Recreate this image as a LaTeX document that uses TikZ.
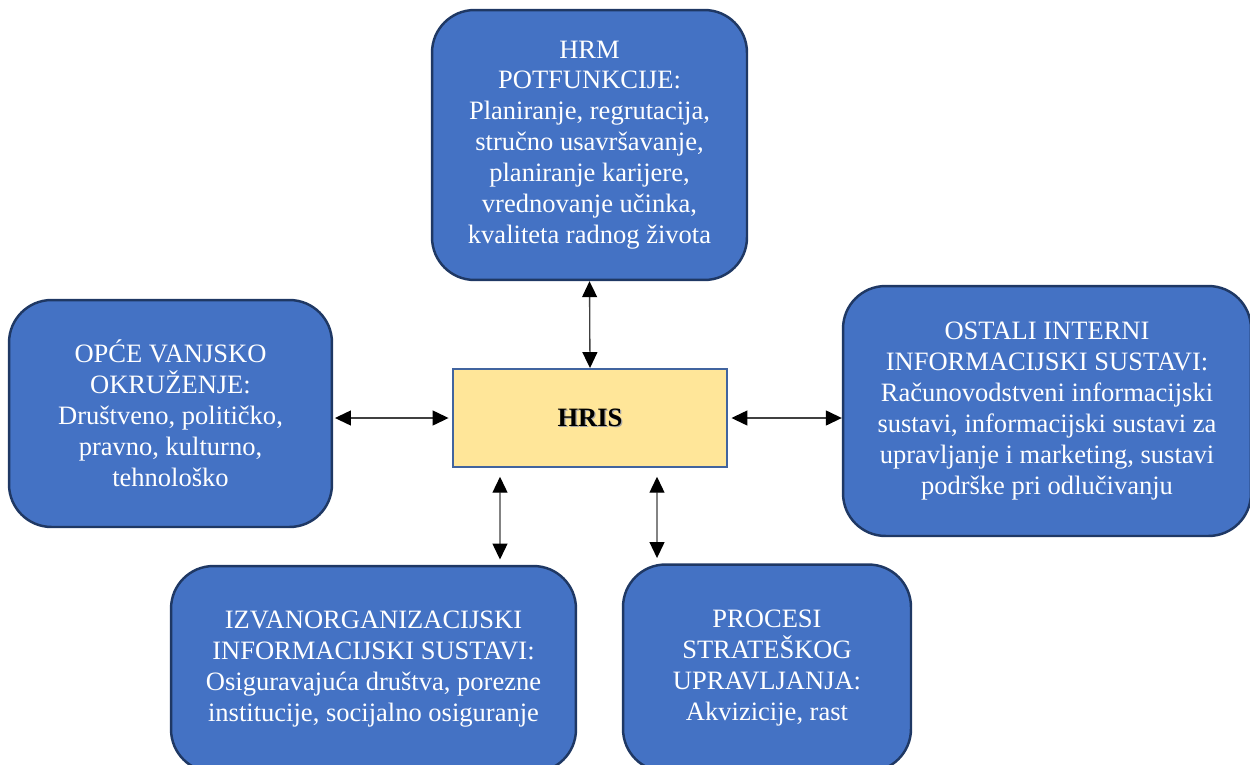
\documentclass[tikz,border=0pt]{standalone}
\usepackage{fontspec}
\setmainfont{Liberation Serif}
\usetikzlibrary{arrows.meta}
\definecolor{boxblue}{HTML}{4472C4}
\definecolor{boxedge}{HTML}{1F3864}
\definecolor{hrisfill}{HTML}{FFE699}
\definecolor{hrisedge}{HTML}{41649F}
\definecolor{arrline}{HTML}{404040}
\begin{document}
\begin{tikzpicture}[x=0.02cm,y=-0.02cm,
  bluebox/.style={draw=boxedge, line width=1.4pt, fill=boxblue, rounded corners=0.85cm,
    text=white, align=center, font=\fontsize{15.1}{17.6}\selectfont, inner sep=0pt},
  hrisbox/.style={draw=hrisedge, line width=1.1pt, fill=hrisfill, inner sep=0pt,
    minimum width=5.48cm, minimum height=1.96cm, font=\fontsize{15.1}{17}\selectfont\bfseries},
  biarrow/.style={draw=arrline, line width=0.75pt,
    {Triangle[length=0.32cm,width=0.3cm,fill=black,color=black]}-{Triangle[length=0.32cm,width=0.3cm,fill=black,color=black]}}
]
\useasboundingbox (0,0) rectangle (1250,764);
\clip (0,0) rectangle (1250,764);

\node[bluebox, minimum width=6.3cm, minimum height=5.4cm] (top) at (589.5,145)
  {HRM\\POTFUNKCIJE:\\Planiranje, regrutacija,\\stručno usavršavanje,\\planiranje karijere,\\vrednovanje učinka,\\kvaliteta radnog života};

\node[bluebox, minimum width=6.46cm, minimum height=4.54cm] (left) at (170.5,413.5)
  {OPĆE VANJSKO\\OKRUŽENJE:\\Društveno, političko,\\pravno, kulturno,\\tehnološko};

\node[bluebox, minimum width=8.16cm, minimum height=5.0cm] (right) at (1047,411)
  {OSTALI INTERNI\\INFORMACIJSKI SUSTAVI:\\Računovodstveni informacijski\\sustavi, informacijski sustavi za\\upravljanje i marketing, sustavi\\podrške pri odlučivanju};

\node[bluebox, minimum width=8.1cm, minimum height=4.12cm] (bl) at (373.5,669)
  {IZVANORGANIZACIJSKI\\INFORMACIJSKI SUSTAVI:\\Osiguravajuća društva, porezne\\institucije, socijalno osiguranje};

\node[bluebox, minimum width=5.76cm, minimum height=4.14cm] (br) at (767,668)
  {PROCESI\\STRATEŠKOG\\UPRAVLJANJA:\\Akvizicije, rast};

\node[hrisbox] (hris) at (590,418)
  {\makebox[0pt][l]{\hspace{0.7pt}\raisebox{-0.7pt}{\color{black!35}HRIS}}HRIS};

\draw[biarrow] (top.south) -- (hris.north);
\draw[biarrow, shorten <=1pt, shorten >=2pt] (left.east |- hris.west) -- (hris.west);
\draw[biarrow, shorten <=2pt] (hris.east) -- (right.west |- hris.east);
\draw[biarrow, shorten <=5pt, shorten >=3pt] ([xshift=-1.8cm]hris.south) -- ([xshift=2.53cm]bl.north);
\draw[biarrow, shorten <=5pt, shorten >=3pt] ([xshift=1.34cm]hris.south) -- ([xshift=-2.2cm]br.north);
\end{tikzpicture}
\end{document}
